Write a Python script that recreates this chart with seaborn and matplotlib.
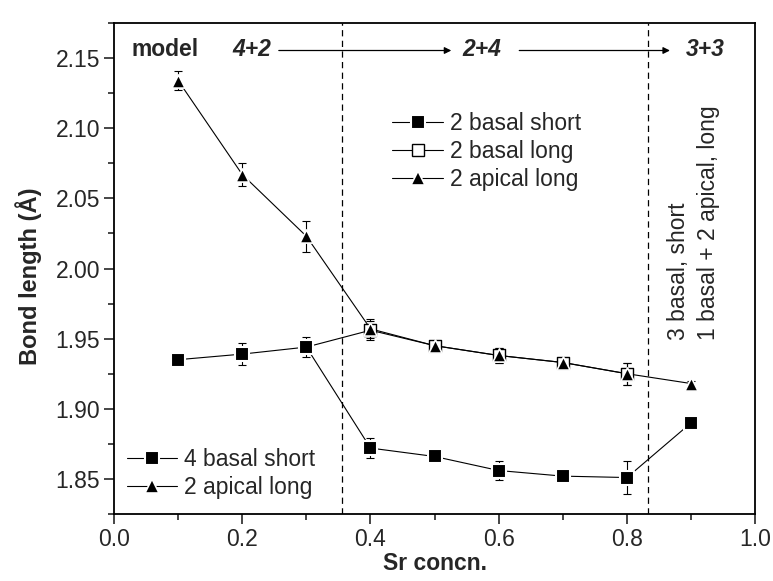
import matplotlib
matplotlib.use("Agg")
import matplotlib.pyplot as plt
import seaborn as sns
from matplotlib.lines import Line2D
from matplotlib.ticker import MultipleLocator

# ---- data ----
sr = [0.1, 0.2, 0.3, 0.4, 0.5, 0.6, 0.7, 0.8, 0.9]
short_y = [1.935, 1.939, 1.944, 1.872, 1.866, 1.856, 1.852, 1.851, 1.890]
short_err = [0.001, 0.008, 0.007, 0.007, 0.003, 0.007, 0.003, 0.012, 0.002]
apical_y = [2.134, 2.067, 2.023, 1.957, 1.945, 1.938, 1.933, 1.925, 1.918]
apical_err = [0.007, 0.0085, 0.011, 0.0068, 0.003, 0.005, 0.003, 0.008, 0.002]
long_x = [0.4, 0.5, 0.6, 0.7, 0.8]
long_y = [1.956, 1.945, 1.938, 1.933, 1.925]
long_err = [0.0068, 0.003, 0.005, 0.003, 0.008]
boundaries = [0.355, 0.833]
models = ["4+2", "2+4", "3+3"]
legend_top = ["2 basal short", "2 basal long", "2 apical long"]
legend_bottom = ["4 basal short", "2 apical long"]
side_text = ["3 basal, short", "1 basal + 2 apical, long"]

sns.set_style("ticks")
plt.rcParams["font.family"] = ["Liberation Sans", "DejaVu Sans"]
FS = 16.5
plt.rcParams["font.size"] = FS

fig = plt.figure(figsize=(7.73, 5.81), dpi=100)
ax = fig.add_axes([0.1475, 0.1153, 0.8295, 0.8451])

LW = 0.8
# connecting lines
sns.lineplot(x=sr, y=short_y, color="k", lw=LW, sort=False, ax=ax, legend=False, zorder=2)
sns.lineplot(x=sr, y=apical_y, color="k", lw=LW, sort=False, ax=ax, legend=False, zorder=2)
sns.lineplot(x=[sr[2]] + long_x, y=[short_y[2]] + long_y, color="k", lw=LW,
             sort=False, ax=ax, legend=False, zorder=2)

# error bars
for xs, ys, es in [(sr, short_y, short_err), (sr, apical_y, apical_err), (long_x, long_y, long_err)]:
    ax.errorbar(xs, ys, yerr=es, fmt="none", ecolor="k", elinewidth=LW,
                capsize=3.2, capthick=LW, zorder=2.5)

# markers
sns.scatterplot(x=sr, y=short_y, marker="s", s=110, color="k", edgecolor="white",
                linewidth=1.5, ax=ax, zorder=4, legend=False)
sns.scatterplot(x=long_x, y=long_y, marker="s", s=80, color="white", edgecolor="k",
                linewidth=1.0, ax=ax, zorder=4, legend=False)
sns.scatterplot(x=sr, y=apical_y, marker="^", s=90, color="k", edgecolor="white",
                linewidth=1.2, ax=ax, zorder=5, legend=False)

# vertical boundaries
for b in boundaries:
    ax.axvline(b, color="k", lw=0.9, ls=(0, (5, 3.5)), zorder=1)

ax.set_xlim(0.0, 1.0)
ax.set_ylim(1.825, 2.175)
ax.xaxis.set_major_locator(MultipleLocator(0.2))
ax.xaxis.set_minor_locator(MultipleLocator(0.1))
ax.yaxis.set_major_locator(MultipleLocator(0.05))
ax.yaxis.set_minor_locator(MultipleLocator(0.025))
ax.xaxis.set_major_formatter(plt.FormatStrFormatter("%.1f"))
ax.yaxis.set_major_formatter(plt.FormatStrFormatter("%.2f"))
ax.tick_params(which="major", direction="out", length=7, width=1.2, labelsize=16.5, pad=3,
               top=False, right=False)
ax.tick_params(which="minor", direction="out", length=4, width=1.2, top=False, right=False)
for sp in ax.spines.values():
    sp.set_linewidth(1.3)
    sp.set_color("k")

ax.set_xlabel("Sr concn.", fontsize=FS, fontweight="bold", labelpad=1)
ax.set_ylabel("Bond length (Å)", fontsize=17, fontweight="bold", labelpad=10)
ax.yaxis.label.set_y(0.485)

# legends
def h_sq():
    return Line2D([], [], color="k", lw=LW, marker="s", ms=10, mfc="k", mec="white", mew=1.5)

def h_open():
    return Line2D([], [], color="k", lw=LW, marker="s", ms=9, mfc="white", mec="k", mew=1.0)

def h_tri():
    return Line2D([], [], color="k", lw=LW, marker="^", ms=9.5, mfc="k", mec="white", mew=1.2)

leg_kw = dict(frameon=False, fontsize=FS, handlelength=2.2, handletextpad=0.3,
              labelspacing=0.21, borderpad=0, borderaxespad=0)
leg1 = ax.legend([h_sq(), h_open(), h_tri()], legend_top, loc="upper left",
                 bbox_to_anchor=(0.434, 0.818), **leg_kw)
ax.add_artist(leg1)
ax.legend([h_sq(), h_tri()], legend_bottom, loc="lower left",
          bbox_to_anchor=(0.02, 0.03), **leg_kw)

# top annotations
yt = 2.1564
ax.text(0.028, yt, "model", fontsize=FS, fontweight="bold", va="center", ha="left")
xs_model = [0.184, 0.544, 0.891]
for xm, m in zip(xs_model, models):
    ax.text(xm, yt, m, fontsize=FS, fontweight="bold", fontstyle="italic", va="center", ha="left")
for x0, x1 in [(0.257, 0.526), (0.632, 0.867)]:
    ax.annotate("", xy=(x1, yt - 0.001), xytext=(x0, yt - 0.001),
                arrowprops=dict(arrowstyle="-|>", color="k", lw=0.9, mutation_scale=10,
                                shrinkA=0, shrinkB=0))

# rotated side text
ax.text(0.880, 1.9491, side_text[0], rotation=90, ha="center", va="bottom", fontsize=FS)
ax.text(0.927, 1.9491, side_text[1], rotation=90, ha="center", va="bottom", fontsize=FS)

fig.savefig("out.png", dpi=100)
